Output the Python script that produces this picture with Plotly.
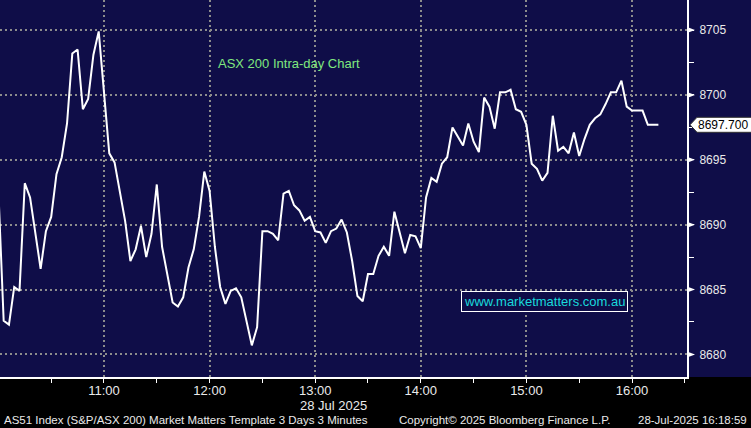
import pandas as pd
import plotly.graph_objects as go

# ---- data (3-minute bars, 28 Jul 2025) ----
START = "2025-07-28 10:00"
VALUES = [
    8692.6, 8682.6, 8682.3, 8685.2, 8684.9, 8693.2, 8692.1, 8689.4, 8686.6, 8689.5,
    8690.6, 8693.9, 8695.2, 8697.8, 8703.2, 8703.5, 8698.9, 8699.7, 8703.1, 8704.9,
    8700.5, 8695.5, 8694.8, 8692.6, 8690.3, 8687.2, 8688.1, 8689.9, 8687.5, 8689.3,
    8693.1, 8688.3, 8686.2, 8684.0, 8683.7, 8684.4, 8686.7, 8688.1, 8690.6, 8694.1,
    8692.6, 8688.3, 8685.2, 8683.9, 8684.9, 8685.1, 8684.4, 8682.6, 8680.7, 8682.1,
    8689.5, 8689.5, 8689.3, 8688.8, 8692.4, 8692.6, 8691.5, 8691.1, 8690.3, 8690.6,
    8689.5, 8689.4, 8688.6, 8689.5, 8689.7, 8690.4, 8689.4, 8687.2, 8684.5, 8684.1,
    8686.2, 8686.2, 8687.6, 8688.3, 8687.6, 8691.0, 8689.4, 8687.8, 8689.2, 8689.1,
    8688.2, 8692.1, 8693.6, 8693.3, 8694.7, 8695.2, 8697.5, 8696.8, 8696.1, 8697.8,
    8696.4, 8695.6, 8699.8, 8699.1, 8697.4, 8700.2, 8700.2, 8700.4, 8698.9, 8698.7,
    8697.7, 8694.7, 8694.3, 8693.4, 8694.0, 8698.4, 8695.7, 8696.0, 8695.5, 8697.1,
    8695.3, 8696.6, 8697.7, 8698.2, 8698.5, 8699.3, 8700.2, 8700.2, 8701.1, 8699.1,
    8698.8, 8698.8, 8698.8, 8697.7, 8697.7, 8697.7,
]
TIMES = pd.date_range(START, periods=len(VALUES), freq="3min")
LAST_VALUE = 8697.700

X_TICKS = ["2025-07-28 11:00", "2025-07-28 12:00", "2025-07-28 13:00",
           "2025-07-28 14:00", "2025-07-28 15:00", "2025-07-28 16:00"]
X_TICK_TEXT = ["11:00", "12:00", "13:00", "14:00", "15:00", "16:00"]
Y_TICKS = [8680, 8685, 8690, 8695, 8700, 8705]
DATE_LABEL = "28 Jul 2025"

NAVY = "#0f0d48"
GRID = "#8c8c8c"
TXT = "#eaeaea"
FONT = "Liberation Sans, Arial, sans-serif"

W, H = 751, 428
ML, MR, MT, MB = 0, 64, 0, 51
PW = W - ML - MR
PH = H - MT - MB
YR = [8678.26, 8707.32]
px_y = (YR[1] - YR[0]) / PH

fig = go.Figure()
fig.add_trace(go.Scatter(x=TIMES, y=VALUES, mode="lines",
                         line=dict(color="white", width=2), hoverinfo="skip",
                         showlegend=False))

shapes = []
# navy behind right axis area
shapes.append(dict(type="rect", xref="paper", yref="paper", x0=1, x1=1.2, y0=0, y1=1,
                   fillcolor=NAVY, line=dict(width=0), layer="below"))
# tick arrows on y axis
tw = 8 / PW
for v in Y_TICKS:
    shapes.append(dict(type="path", xref="paper", yref="y",
                       path=f"M 1,{v + 3*px_y} L {1 + tw},{v} L 1,{v - 3*px_y} Z",
                       fillcolor="white", line=dict(width=0)))
# last value tag
x0 = 1 + 3 / PW
x1 = 1 + 10 / PW
x2 = 1 + 70 / PW
hh = 7.5 * px_y
shapes.append(dict(type="path", xref="paper", yref="y",
                   path=(f"M {x0},{LAST_VALUE} L {x1},{LAST_VALUE + hh} L {x2},{LAST_VALUE + hh} "
                         f"L {x2},{LAST_VALUE - hh} L {x1},{LAST_VALUE - hh} Z"),
                   fillcolor="white", line=dict(color="#333333", width=1)))

annotations = [
    dict(text="ASX 200 Intra-day Chart", xref="paper", yref="paper",
         x=216 / PW, y=1 - 64 / PH, xanchor="left", yanchor="middle", showarrow=False,
         font=dict(family=FONT, size=13, color="#7fe87f")),
    dict(text="www.marketmatters.com.au", xref="paper", yref="paper",
         x=544 / PW, y=1 - 301 / PH, xanchor="center", yanchor="middle", showarrow=False,
         font=dict(family=FONT, size=13, color="#19d9dc"), bgcolor=NAVY,
         bordercolor="white", borderwidth=1, borderpad=2),
    dict(text=f"{LAST_VALUE:.3f}", xref="paper", yref="y", x=1 + 9 / PW, y=LAST_VALUE,
         xanchor="left", yanchor="middle", showarrow=False,
         font=dict(family=FONT, size=12, color="black")),
    dict(text=DATE_LABEL, xref="x", yref="paper", x=X_TICKS[2], y=0, yshift=-19,
         xshift=-17, xanchor="left", yanchor="top", showarrow=False,
         font=dict(family=FONT, size=13, color=TXT)),
    dict(text="AS51 Index (S&P/ASX 200) Market Matters Template 3 Days 3 Minutes",
         xref="paper", yref="paper", x=2 / PW, y=0, yshift=-35, xanchor="left",
         yanchor="top", showarrow=False, font=dict(family=FONT, size=11.5, color=TXT)),
    dict(text="Copyright© 2025 Bloomberg Finance L.P.",
         xref="paper", yref="paper", x=397 / PW, y=0, yshift=-35, xanchor="left",
         yanchor="top", showarrow=False, font=dict(family=FONT, size=11.5, color=TXT)),
    dict(text="28-Jul-2025 16:18:59",
         xref="paper", yref="paper", x=749 / PW, y=0, yshift=-35, xanchor="right",
         yanchor="top", showarrow=False, font=dict(family=FONT, size=11.5, color=TXT)),
]

fig.update_layout(
    width=W, height=H,
    margin=dict(l=ML, r=MR, t=MT, b=MB, pad=0, autoexpand=False),
    paper_bgcolor="black", plot_bgcolor=NAVY,
    shapes=shapes, annotations=annotations,
    showlegend=False,
    xaxis=dict(
        type="date", range=["2025-07-28 10:00:55", "2025-07-28 16:31:15"],
        automargin=False,
        tickvals=X_TICKS, ticktext=X_TICK_TEXT,
        ticks="", ticklabelstandoff=0,
        tickfont=dict(family=FONT, size=13, color=TXT),
        showgrid=True, gridcolor=GRID, gridwidth=2, griddash="2px,3px",
        showline=True, linecolor="white", linewidth=2,
        minor=dict(dtick=30 * 60 * 1000, tick0="2025-07-28 10:00", ticks="outside",
                   ticklen=4, tickcolor="white", tickwidth=1, showgrid=False),
        zeroline=False, fixedrange=True,
    ),
    yaxis=dict(
        side="right", range=YR, tickvals=Y_TICKS, automargin=False,
        ticks="outside", ticklen=8, tickcolor="rgba(0,0,0,0)",
        tickfont=dict(family=FONT, size=12, color=TXT),
        showgrid=True, gridcolor=GRID, gridwidth=2, griddash="2px,3px",
        showline=True, linecolor="white", linewidth=2,
        minor=dict(dtick=2.5, tick0=8680, ticks="outside", ticklen=5,
                   tickcolor="white", tickwidth=1, showgrid=False),
        zeroline=False, fixedrange=True,
    ),
)

fig.write_html(
    "out.html",
    config={"displayModeBar": False},
    post_script="document.body.style.margin='0';document.body.style.overflow='hidden';",
)
